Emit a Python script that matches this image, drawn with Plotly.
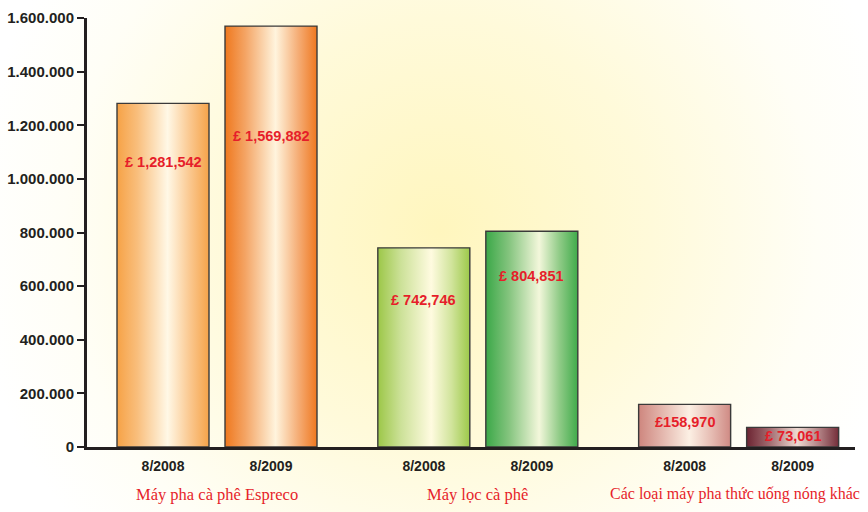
import base64
import plotly.graph_objects as go

# ---------------- data ----------------
groups = ["Máy pha cà phê Espreco", "Máy lọc cà phê", "Các loại máy pha thức uống nóng khác"]
periods = ["8/2008", "8/2009"]
values_2008 = [1281542, 742746, 158970]
values_2009 = [1569882, 804851, 73061]
labels_2008 = ["£ 1,281,542", "£ 742,746", "£158,970"]
labels_2009 = ["£ 1,569,882", "£ 804,851", "£ 73,061"]
y_tickvals = [0, 200000, 400000, 600000, 800000, 1000000, 1200000, 1400000, 1600000]
y_ticktext = ["0", "200.000", "400.000", "600.000", "800.000", "1.000.000",
              "1.200.000", "1.400.000", "1.600.000"]

# ---------------- styles ----------------
GROUP_STEP = 2.835
SUB_OFFSET = 0.587
BAR_W = 1.0
label_shift = [[-59, -110], [-52, -45], [-18, -9]]
gradients = [
    [[(0, '#F6A246'), (0.22, '#F9BE7C'), (0.55, '#FFF8E6'), (0.8, '#FAC68C'), (1, '#F6A349')],
     [(0, '#EF781E'), (0.22, '#F4A464'), (0.55, '#FFF4DD'), (0.8, '#F5AC74'), (1, '#EF7820')]],
    [[(0, '#9CC748'), (0.25, '#CCE198'), (0.58, '#FFFBE0'), (0.8, '#D1E49C'), (1, '#9DC94A')],
     [(0, '#3BA848'), (0.25, '#84C47E'), (0.58, '#F3F7DB'), (0.8, '#90CB87'), (1, '#3FAB4A')]],
    [[(0, '#CE867E'), (0.25, '#E3B5AC'), (0.55, '#FCF0E4'), (0.8, '#E5BAB1'), (1, '#CF8A84')],
     [(0, '#6C2432'), (0.25, '#A26C70'), (0.55, '#EEDAD2'), (0.8, '#AE7D80'), (1, '#742E3A')]],
]
RED = '#E61E2A'
DARK = '#231F20'
SANS = "Liberation Sans, Arial, sans-serif"
SERIF = "Liberation Serif, Times New Roman, serif"

W, H = 868, 512
ML, MR, MT, MB = 87, 13, 18, 65
PW, PH = W - ML - MR, H - MT - MB

fig = go.Figure()

series = [values_2008, values_2009]
series_labels = [labels_2008, labels_2009]
group_font_sizes = [16.5, 16.5, 16]
group_xshift = [0, 0, -4]
tickvals_x, ticktext_x = [], []
annotations = []
for g in range(len(groups)):
    for s in range(len(periods)):
        xc = g * GROUP_STEP + (s - 0.5) * 2 * SUB_OFFSET
        v = series[s][g]
        x0, x1 = xc - BAR_W / 2, xc + BAR_W / 2
        fig.add_trace(go.Scatter(
            x=[x0, x0, x1, x1, x0], y=[0, v, v, 0, 0],
            mode='lines', fill='toself',
            fillgradient=dict(type='horizontal', colorscale=gradients[g][s]),
            line=dict(color='#3A3A3A', width=1.4),
            hoverinfo='skip', showlegend=False))
        tickvals_x.append(xc)
        ticktext_x.append(periods[s])
        annotations.append(dict(
            x=xc, y=v, xref='x', yref='y', text=series_labels[s][g],
            showarrow=False, yanchor='middle', yshift=label_shift[g][s],
            font=dict(family=SANS, size=14.5, color=RED, weight='bold')))
    annotations.append(dict(
        x=g * GROUP_STEP, y=0, xref='x', yref='paper', text=groups[g],
        showarrow=False, yanchor='middle', yshift=-47, xshift=group_xshift[g],
        font=dict(family=SERIF, size=group_font_sizes[g], color=RED)))

xmin = -(130 / 92.0)
xmax = xmin + PW / 92.0

svg = f'''<svg xmlns="http://www.w3.org/2000/svg" width="{W}" height="{H}">
<defs><radialGradient id="g" gradientUnits="userSpaceOnUse" cx="440" cy="230" r="470">
<stop offset="0" stop-color="#FFF6BE"/><stop offset="0.45" stop-color="#FFFADA"/>
<stop offset="0.8" stop-color="#FFFEF6"/><stop offset="1" stop-color="#FFFFFF"/></radialGradient></defs>
<rect width="{W}" height="{H}" fill="url(#g)"/></svg>'''
src = "data:image/svg+xml;base64," + base64.b64encode(svg.encode()).decode()

fig.update_layout(
    width=W, height=H,
    margin=dict(l=ML, r=MR, t=MT, b=MB, pad=0),
    paper_bgcolor='#FFFFFF', plot_bgcolor='rgba(0,0,0,0)',
    images=[dict(source=src, xref='paper', yref='paper',
                 x=-ML / PW, y=1 + MT / PH, sizex=W / PW, sizey=H / PH,
                 xanchor='left', yanchor='top', sizing='stretch', layer='below')],
    xaxis=dict(range=[xmin, xmax], showgrid=False, zeroline=False, automargin=False,
               showline=True, linecolor=DARK, linewidth=3,
               tickvals=tickvals_x, ticktext=ticktext_x, ticks='',
               tickfont=dict(family=SANS, size=14, color=DARK, weight='bold'),
               ticklabelstandoff=4, fixedrange=True),
    yaxis=dict(range=[0, 1600000], showgrid=False, zeroline=False, automargin=False,
               showline=True, linecolor=DARK, linewidth=3,
               tickvals=y_tickvals, ticktext=y_ticktext,
               ticks='outside', ticklen=7, tickwidth=2, tickcolor=DARK,
               tickfont=dict(family=SANS, size=15, color=DARK, weight='bold'),
               fixedrange=True),
    annotations=annotations,
    showlegend=False,
)

fig.write_html("out.html")
